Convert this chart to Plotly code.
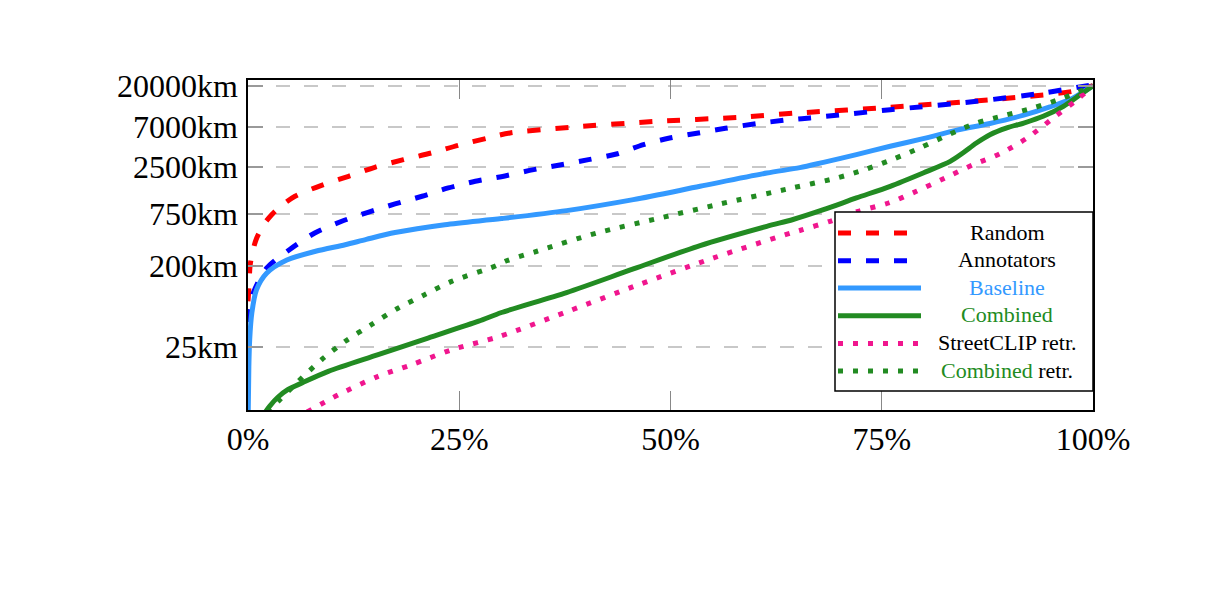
import math
import plotly.graph_objects as go

# ---------------- data (x = share of predictions in %, y = error distance in km) ----------------
random_x = [0, 0.1, 0.25, 0.6, 1.03, 1.8, 2.8, 4.0, 5.56, 8.7, 11.9, 15.0, 18.4, 21.7, 24.9, 28.4, 31.0,
            38.1, 48.4, 58.2, 65.1, 76.0, 87.8, 97.6, 100]
random_km = [80, 110, 200, 300, 404, 560, 735, 930, 1178, 1560, 1965, 2474, 3006, 3570, 4350, 5240, 5960,
             6890, 8030, 8910, 9950, 11500, 13950, 17300, 20000]

annot_x = [0, 0.15, 0.63, 2.2, 4.9, 7.9, 11.1, 14.2, 17.4, 20.6, 23.7, 26.9, 30.4, 33.8, 36.9, 40.3, 43.6,
           46.8, 49.9, 53.3, 56.5, 60.1, 63.4, 66.5, 76.0, 86.2, 94.1, 100]
annot_km = [47, 62, 99, 187, 300, 460, 621, 782, 967, 1178, 1457, 1730, 1983, 2328, 2626, 3008, 3476,
            4420, 5240, 5960, 6710, 7550, 8240, 8750, 10800, 13400, 16600, 20500]

baseline_x = [0, 0.1, 0.2, 0.45, 1.0, 2.2, 4.6, 8.0, 11.5, 14.0, 17.4, 23.3, 30.0, 37.7, 45.6, 53.5,
              61.4, 65.3, 68.1, 72.0, 76.0, 79.9, 83.9, 87.8, 91.8, 94.9, 97.6, 100]
baseline_km = [3, 15, 30, 59, 107, 164, 230, 288, 340, 390, 465, 569, 665, 815, 1080, 1520,
               2135, 2450, 2810, 3420, 4240, 5150, 6400, 7600, 9400, 11600, 14500, 20000]

combined_x = [2.0, 2.6, 3.5, 4.7, 6.5, 9.5, 15.4, 21.3, 27.3, 30.0, 37.7, 45.6, 53.5, 61.4, 64.5, 68.1,
              72.0, 76.0, 79.9, 83.1, 84.6, 86.2, 87.8, 89.8, 91.8, 94.1, 96.5, 98.5, 100]
combined_km = [4.6, 5.5, 6.8, 8.3, 10.0, 13.3, 20.4, 31.2, 48, 60, 100, 183, 333, 545, 650, 835,
               1128, 1520, 2140, 2880, 3570, 4610, 5700, 6780, 7690, 9150, 11800, 15900, 20000]

streetclip_x = [7.0, 10.7, 15.4, 19.4, 24.1, 29.8, 37.9, 46.4, 55.1, 63.6, 65.3, 68.9, 72.2, 75.8, 79.1,
                82.5, 85.8, 89.0, 92.2, 95.3, 98.1, 100]
streetclip_km = [4.7, 7.3, 11.7, 15.8, 23.1, 32.6, 62, 124, 243, 440, 490, 621, 802, 991, 1337,
                 1885, 2640, 3500, 5240, 8750, 13950, 20000]

combretr_x = [2.2, 3.6, 5.95, 8.7, 11.5, 14.6, 17.8, 20.9, 24.1, 29.2, 30.6, 34.2, 41.3, 48.4, 55.5,
              64.4, 69.7, 73.0, 76.2, 79.5, 82.9, 86.2, 89.6, 92.9, 96.5, 100]
combretr_km = [4.7, 6.2, 10.3, 17.9, 28.7, 44, 67.4, 94.7, 133, 196, 226, 288, 460, 664, 950,
               1457, 1885, 2330, 3008, 4060, 5700, 7690, 9380, 11300, 14600, 20000]

x_tickvals = [0, 25, 50, 75, 100]
x_ticktext = ["0%", "25%", "50%", "75%", "100%"]
y_tickvals = [25, 200, 750, 2500, 7000, 20000]
y_ticktext = ["25km", "200km", "750km", "2500km", "7000km", "20000km"]

# ---------------- styles ----------------
RED = "#FF0000"
BLUE = "#0000FF"
LIGHTBLUE = "#3399FF"
GREEN = "#228B22"
PINK = "#F0168E"
DASH = "13px,15px"
DOT = "5px,10px"
FONT = "Liberation Serif"

series = [
    ("Random", random_x, random_km, RED, DASH),
    ("Annotators", annot_x, annot_km, BLUE, DASH),
    ("Baseline", baseline_x, baseline_km, LIGHTBLUE, "solid"),
    ("Combined", combined_x, combined_km, GREEN, "solid"),
    ("StreetCLIP retr.", streetclip_x, streetclip_km, PINK, DOT),
    ("Combined retr.", combretr_x, combretr_km, GREEN, DOT),
]

fig = go.Figure()
for name, xs, ys, col, dash in series:
    fig.add_trace(go.Scatter(x=xs, y=ys, mode="lines", name=name,
                             line=dict(color=col, width=5, dash=dash, shape="spline", smoothing=0.8),
                             showlegend=False))

# plot area geometry (pixels)
L, R, T, B = 248, 134, 80, 190
W, H = 1227, 600
PW, PH = W - L - R, H - T - B


def px2x(px):
    return (px - L) / PW


def py2y(py):
    return (H - B - py) / PH


# ---------------- legend (drawn as layout shapes + annotations) ----------------
shapes = [dict(type="rect", xref="paper", yref="paper",
               x0=px2x(835), x1=px2x(1093), y0=py2y(391), y1=py2y(212),
               fillcolor="white", line=dict(color="black", width=1.5), layer="above")]
labels = [
    "Random",
    "Annotators",
    f"<span style='color:{LIGHTBLUE}'>Baseline</span>",
    f"<span style='color:{GREEN}'>Combined</span>",
    "StreetCLIP retr.",
    f"<span style='color:{GREEN}'>Combined</span> retr.",
]
rows = [233, 260.7, 288, 315.7, 343.4, 371]
annotations = []
for (name, xs, ys, col, dash), lab, ry in zip(series, labels, rows):
    shapes.append(dict(type="line", xref="paper", yref="paper",
                       x0=px2x(838), x1=px2x(921), y0=py2y(ry), y1=py2y(ry),
                       line=dict(color=col, width=5, dash=dash), layer="above"))
    annotations.append(dict(xref="paper", yref="paper", x=px2x(1007), y=py2y(ry - 1),
                            text=lab, showarrow=False, xanchor="center", yanchor="middle",
                            font=dict(family=FONT, size=22, color="black")))

fig.update_layout(
    width=W, height=H,
    margin=dict(l=L, r=R, t=T, b=B, pad=0),
    paper_bgcolor="white", plot_bgcolor="white",
    shapes=shapes, annotations=annotations,
    font=dict(family=FONT, size=32, color="black"),
)
fig.update_xaxes(
    range=[0, 100], tickvals=x_tickvals, ticktext=x_ticktext,
    showgrid=False, zeroline=False,
    showline=True, linecolor="black", linewidth=1.5, mirror="ticks",
    ticks="inside", ticklen=19, tickcolor="#888888", tickwidth=1,
    tickfont=dict(family=FONT, size=32, color="black"),
)
fig.update_yaxes(
    type="log", range=[math.log10(4.94), math.log10(23140)],
    tickvals=y_tickvals, ticktext=y_ticktext,
    showgrid=True, gridcolor="#c8c8c8", gridwidth=1.5, griddash="14px,14px",
    zeroline=False,
    showline=True, linecolor="black", linewidth=1.5, mirror="ticks",
    ticks="inside", ticklen=15, tickcolor="#999999", tickwidth=1.5,
    tickfont=dict(family=FONT, size=32, color="black"),
    ticklabelstandoff=2,
)

fig.write_html("out.html")
